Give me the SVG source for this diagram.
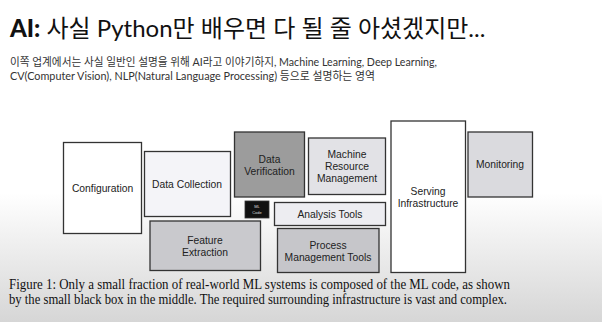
<svg xmlns="http://www.w3.org/2000/svg" width="602" height="322" viewBox="0 0 602 322">
<defs>
<linearGradient id="bg" x1="0" y1="0" x2="0" y2="1">
<stop offset="0" stop-color="#ffffff"/>
<stop offset="0.6" stop-color="#ffffff"/>
<stop offset="1" stop-color="#d6d6d6"/>
</linearGradient>
</defs>
<style>
.box{stroke:#333;stroke-width:1.3}
.lbl{font-family:"Liberation Sans",Arial,sans-serif;font-size:10.3px;fill:#222;text-anchor:middle}
.ttl{font-family:"Lato","Noto Sans CJK KR",sans-serif;font-size:24px;fill:#111}
.sub{font-family:"Lato","Noto Sans CJK KR",sans-serif;font-size:11px;fill:#333}
.cap{font-family:"Liberation Serif","Times New Roman",serif;font-size:14px;fill:#111}
</style>
<rect width="602" height="322" fill="url(#bg)"/>
<text class="ttl" x="10" y="37"><tspan font-weight="900" font-family="Lato, sans-serif">AI:</tspan> 사실 Python만 배우면 다 될 줄 아셨겠지만...</text>
<text class="sub" x="10" y="66" textLength="427" lengthAdjust="spacingAndGlyphs">이쪽 업계에서는 사실 일반인 설명을 위해 AI라고 이야기하지, Machine Learning, Deep Learning,</text>
<text class="sub" x="10" y="80" textLength="365" lengthAdjust="spacingAndGlyphs">CV(Computer Vision), NLP(Natural Language Processing) 등으로 설명하는 영역</text>
<g id="configuration"><rect class="box" x="63.5" y="142.5" width="78" height="91" fill="#ffffff"/><text class="lbl" x="102.5" y="192">Configuration</text></g>
<g id="data-collection"><rect class="box" x="144.5" y="151.5" width="86" height="65" fill="#f4f4f8"/><text class="lbl" x="187" y="188">Data Collection</text></g>
<g id="data-verification"><rect class="box" x="234.5" y="132" width="70" height="65" fill="#9c9c9c"/><text class="lbl" x="269.5" y="162.5">Data</text><text class="lbl" x="269.5" y="174.5">Verification</text></g>
<g id="ml-code"><rect x="245" y="201" width="24" height="17" fill="#111" stroke="#333" stroke-width="0.8"/><text x="257" y="208" font-family="Liberation Sans, sans-serif" font-size="4" fill="#ddd" text-anchor="middle">ML</text><text x="257" y="213.5" font-family="Liberation Sans, sans-serif" font-size="4" fill="#ddd" text-anchor="middle">Code</text></g>
<g id="feature-extraction"><rect class="box" x="150" y="221" width="110.5" height="49.5" fill="#c9c9cd"/><text class="lbl" x="205" y="243.5">Feature</text><text class="lbl" x="205" y="255.5">Extraction</text></g>
<g id="machine-resource-management"><rect class="box" x="308.5" y="138" width="77" height="56.5" fill="#e2e2e6"/><text class="lbl" x="347" y="157.5">Machine</text><text class="lbl" x="347" y="169.5">Resource</text><text class="lbl" x="347" y="181.5">Management</text></g>
<g id="analysis-tools"><rect class="box" x="274.5" y="202.5" width="111" height="23" fill="#ededf1"/><text class="lbl" x="330" y="217.5">Analysis Tools</text></g>
<g id="process-management-tools"><rect class="box" x="277.5" y="228.5" width="101.5" height="44" fill="#c6c6ca"/><text class="lbl" x="328" y="248.5">Process</text><text class="lbl" x="328" y="260.5">Management Tools</text></g>
<g id="serving-infrastructure"><rect class="box" x="391" y="121" width="74.5" height="151.5" fill="#ffffff"/><text class="lbl" x="428" y="194.5">Serving</text><text class="lbl" x="428" y="206.5">Infrastructure</text></g>
<g id="monitoring"><rect class="box" x="468" y="132" width="64.5" height="65" fill="#dadade"/><text class="lbl" x="500" y="168">Monitoring</text></g>
<g id="connectors"></g>
<text class="cap" x="9" y="289" textLength="501" lengthAdjust="spacingAndGlyphs">Figure 1: Only a small fraction of real-world ML systems is composed of the ML code, as shown</text>
<text class="cap" x="9" y="304" textLength="498" lengthAdjust="spacingAndGlyphs">by the small black box in the middle. The required surrounding infrastructure is vast and complex.</text>
</svg>
